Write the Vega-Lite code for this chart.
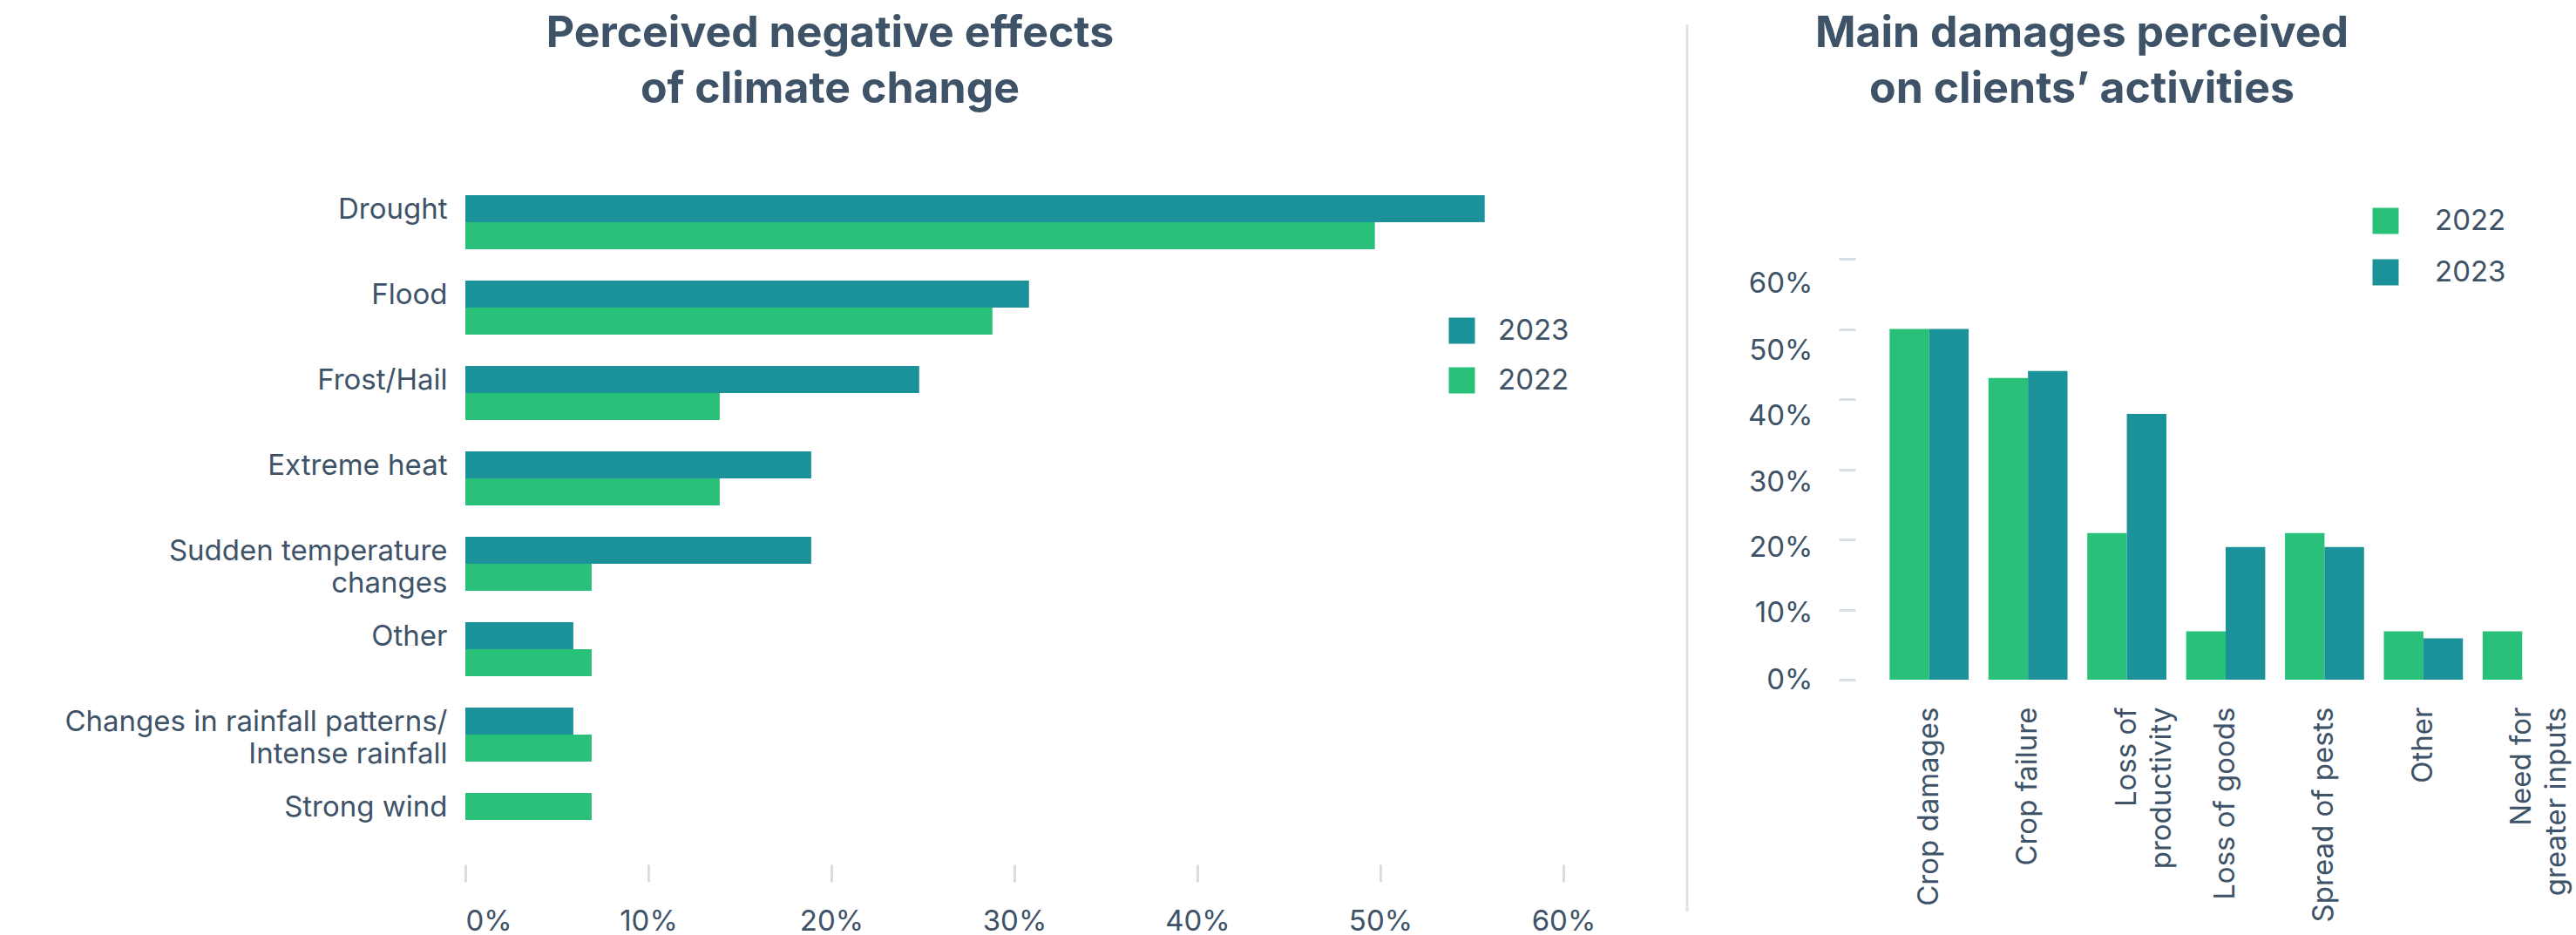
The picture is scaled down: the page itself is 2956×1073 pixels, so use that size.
{
  "$schema": "https://vega.github.io/schema/vega-lite/v6.json",
  "padding": {"left": 0, "top": 14, "right": 5, "bottom": 0},
  "spacing": 20,
  "resolve": {"scale": {"color": "independent"}, "legend": {"color": "independent"}},
  "config": {
    "view": {"stroke": null},
    "font": "Inter",
    "axis": {"labelFont": "Inter", "labelFontSize": 33, "labelColor": "#3e5368", "grid": false, "domain": false, "labelLimit": 1000, "titleFontSize": 0},
    "legend": {"labelFont": "Inter", "labelFontSize": 33, "labelColor": "#3e5368", "symbolType": "square", "symbolSize": 900, "symbolStrokeWidth": 0, "symbolOpacity": 1},
    "title": {"font": "Inter", "fontSize": 50, "fontWeight": "bold", "color": "#3e5368", "lineHeight": 64, "anchor": "middle", "frame": "group", "baseline": "top"}
  },
  "hconcat": [
    {
      "title": {"text": ["Perceived negative effects", "of climate change"], "dx": -243, "offset": -100},
      "width": 1323,
      "height": 944,
      "data": {"values": [
        {"effect": "Drought", "year": "2023", "share": 55.7},
        {"effect": "Drought", "year": "2022", "share": 49.7},
        {"effect": "Flood", "year": "2023", "share": 30.8},
        {"effect": "Flood", "year": "2022", "share": 28.8},
        {"effect": "Frost/Hail", "year": "2023", "share": 24.8},
        {"effect": "Frost/Hail", "year": "2022", "share": 13.9},
        {"effect": "Extreme heat", "year": "2023", "share": 18.9},
        {"effect": "Extreme heat", "year": "2022", "share": 13.9},
        {"effect": "Sudden temperature\nchanges", "year": "2023", "share": 18.9},
        {"effect": "Sudden temperature\nchanges", "year": "2022", "share": 6.9},
        {"effect": "Other", "year": "2023", "share": 5.9},
        {"effect": "Other", "year": "2022", "share": 6.9},
        {"effect": "Changes in rainfall patterns/\nIntense rainfall", "year": "2023", "share": 5.9},
        {"effect": "Changes in rainfall patterns/\nIntense rainfall", "year": "2022", "share": 6.9},
        {"effect": "Strong wind", "year": "2022", "share": 6.9}
      ]},
      "encoding": {
        "y": {
          "field": "effect", "type": "nominal", "title": null,
          "sort": ["Drought", "Flood", "Frost/Hail", "Extreme heat", "Sudden temperature\nchanges", "Other", "Changes in rainfall patterns/\nIntense rainfall", "Strong wind"],
          "scale": {"paddingInner": 0.367, "paddingOuter": 1, "align": 1},
          "axis": {"labelExpr": "split(datum.label, '\\n')", "labelBaseline": "alphabetic", "labelOffset": -4, "labelPadding": 21, "labelLineHeight": 37, "ticks": false, "minExtent": 534, "labelAlign": "right"}
        },
        "x": {
          "field": "share", "type": "quantitative", "title": null,
          "scale": {"domain": [0, 63], "nice": false},
          "axis": {"values": [0, 10, 20, 30, 40, 50, 60], "labelExpr": "datum.value + '%'", "tickSize": 20, "tickWidth": 3, "tickColor": "#d8dde2", "offset": 20, "labelPadding": 29}
        },
        "color": {
          "field": "year", "type": "nominal",
          "scale": {"domain": ["2023", "2022"], "range": ["#1b9199", "#29c07a"]},
          "legend": {"title": null, "orient": "none", "legendX": 1127, "legendY": 335, "labelOffset": 25, "rowPadding": 23}
        }
      },
      "layer": [
        {
          "transform": [{"filter": "datum.effect !== 'Strong wind'"}],
          "mark": "bar",
          "encoding": {"yOffset": {"field": "year", "type": "nominal", "sort": ["2023", "2022"], "scale": {"domain": ["2023", "2022"], "paddingInner": 0, "paddingOuter": 0}}}
        },
        {
          "transform": [{"filter": "datum.effect === 'Strong wind'"}],
          "mark": "bar",
          "encoding": {"yOffset": {"datum": "2023", "type": "nominal"}}
        }
      ]
    },
    {
      "width": 59,
      "height": 1018,
      "data": {"values": [{"divider": "between charts"}]},
      "mark": {"type": "rule", "color": "#dfe3e7", "strokeWidth": 3},
      "encoding": {"x": {"value": "width"}}
    },
    {
      "title": {"text": ["Main damages perceived", "on clients’ activities"], "dx": -165, "offset": -100},
      "width": 794,
      "height": 752,
      "data": {"values": [
        {"damage": "Crop damages", "year": "2022", "share": 50},
        {"damage": "Crop damages", "year": "2023", "share": 50},
        {"damage": "Crop failure", "year": "2022", "share": 43.0},
        {"damage": "Crop failure", "year": "2023", "share": 44.0},
        {"damage": "Loss of\nproductivity", "year": "2022", "share": 20.9},
        {"damage": "Loss of\nproductivity", "year": "2023", "share": 37.9},
        {"damage": "Loss of goods", "year": "2022", "share": 6.9},
        {"damage": "Loss of goods", "year": "2023", "share": 18.9},
        {"damage": "Spread of pests", "year": "2022", "share": 20.9},
        {"damage": "Spread of pests", "year": "2023", "share": 18.9},
        {"damage": "Other", "year": "2022", "share": 6.9},
        {"damage": "Other", "year": "2023", "share": 5.9},
        {"damage": "Need for\ngreater inputs", "year": "2022", "share": 6.9}
      ]},
      "mark": "bar",
      "encoding": {
        "x": {
          "field": "damage", "type": "nominal", "title": null,
          "sort": ["Crop damages", "Crop failure", "Loss of\nproductivity", "Loss of goods", "Spread of pests", "Other", "Need for\ngreater inputs"],
          "scale": {"paddingInner": 0.2, "paddingOuter": 0.1},
          "axis": {"labelAngle": -90, "labelExpr": "split(datum.label, '\\n')", "labelLineHeight": 40, "ticks": false, "labelPadding": 31, "labelAlign": "right", "labelBaseline": "middle"}
        },
        "xOffset": {"field": "year", "type": "nominal", "sort": ["2022", "2023"], "scale": {"domain": ["2022", "2023"], "paddingInner": 0, "paddingOuter": 0}},
        "y": {
          "field": "share", "type": "quantitative", "title": null,
          "scale": {"domain": [0, 93.42], "nice": false},
          "axis": {
            "values": [0, 10, 20, 30, 40, 50, 60], "labelExpr": "datum.value + '%'", "offset": 28, "tickSize": 19, "tickWidth": 3, "tickColor": "#d8dde2", "labelPadding": 30, "minExtent": 171,
            "labelOffset": {"condition": [
              {"test": "datum.value == 60", "value": 28},
              {"test": "datum.value == 50", "value": 25},
              {"test": "datum.value == 40", "value": 19},
              {"test": "datum.value == 30", "value": 15},
              {"test": "datum.value == 20", "value": 9},
              {"test": "datum.value == 10", "value": 4}
            ], "value": 0}
          }
        },
        "color": {
          "field": "year", "type": "nominal",
          "scale": {"domain": ["2022", "2023"], "range": ["#29c07a", "#1b9199"]},
          "legend": {"title": null, "orient": "none", "legendX": 564, "legendY": 209, "labelOffset": 40, "rowPadding": 25}
        }
      }
    }
  ]
}
